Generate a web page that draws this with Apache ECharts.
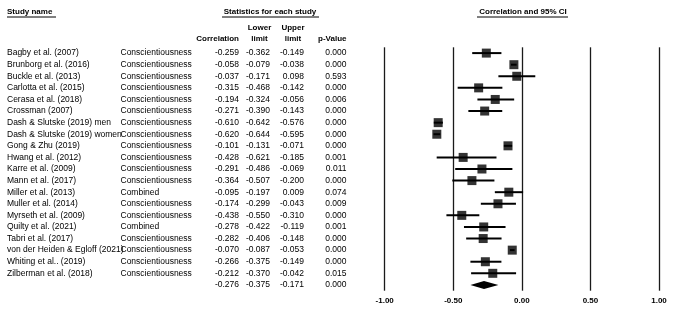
<!DOCTYPE html>
<html>
<head>
<meta charset="utf-8">
<script src="https://cdn.jsdelivr.net/npm/echarts@6/dist/echarts.min.js"></script>
<style>
  html, body { margin: 0; padding: 0; background: #fff; }
  #main { width: 685px; height: 310px; }
</style>
</head>
<body>
<div id="main"></div>
<script>
var studies = ['Bagby et al. (2007)', 'Brunborg et al. (2016)', 'Buckle et al. (2013)', 'Carlotta et al. (2015)',
    'Cerasa et al. (2018)', 'Crossman (2007)', 'Dash & Slutske (2019) men', 'Dash & Slutske (2019) women',
    'Gong & Zhu (2019)', 'Hwang et al. (2012)', 'Karre et al. (2009)', 'Mann et al. (2017)',
    'Miller et al. (2013)', 'Muller et al. (2014)', 'Myrseth et al. (2009)', 'Quilty et al. (2021)',
    'Tabri et al. (2017)', 'von der Heiden & Egloff (2021)', 'Whiting et al.. (2019)', 'Zilberman et al. (2018)'];
var outcomes = ['Conscientiousness', 'Conscientiousness', 'Conscientiousness', 'Conscientiousness',
    'Conscientiousness', 'Conscientiousness', 'Conscientiousness', 'Conscientiousness',
    'Conscientiousness', 'Conscientiousness', 'Conscientiousness', 'Conscientiousness',
    'Combined', 'Conscientiousness', 'Conscientiousness', 'Combined',
    'Conscientiousness', 'Conscientiousness', 'Conscientiousness', 'Conscientiousness'];
var corr = [-0.259, -0.058, -0.037, -0.315, -0.194, -0.271, -0.610, -0.620, -0.101, -0.428,
    -0.291, -0.364, -0.095, -0.174, -0.438, -0.278, -0.282, -0.070, -0.266, -0.212];
var lower = [-0.362, -0.079, -0.171, -0.468, -0.324, -0.390, -0.642, -0.644, -0.131, -0.621,
    -0.486, -0.507, -0.197, -0.299, -0.550, -0.422, -0.406, -0.087, -0.375, -0.370];
var upper = [-0.149, -0.038, 0.098, -0.142, -0.056, -0.143, -0.576, -0.595, -0.071, -0.185,
    -0.069, -0.200, 0.009, -0.043, -0.310, -0.119, -0.148, -0.053, -0.149, -0.042];
var pValues = [0.000, 0.000, 0.593, 0.000, 0.006, 0.000, 0.000, 0.000, 0.000, 0.001,
    0.011, 0.000, 0.074, 0.009, 0.000, 0.001, 0.000, 0.000, 0.000, 0.015];
// pooled effect
var summary = { corr: -0.276, lower: -0.375, upper: -0.171, p: 0.000 };

var FONT = 'Liberation Sans, Arial, sans-serif';
var n = studies.length;
var rows = [];
for (var i = 0; i <= n; i++) rows.push(i);

function f3(v) { return v.toFixed(3); }

var colNames = studies.concat(['']);
var colOutcome = outcomes.concat(['']);
var colCorr = corr.map(f3).concat([f3(summary.corr)]);
var colLower = lower.map(f3).concat([f3(summary.lower)]);
var colUpper = upper.map(f3).concat([f3(summary.upper)]);
var colP = pValues.map(f3).concat([f3(summary.p)]);

var gridLeft = 384.7;

function colAxis(data, offset, align) {
    return {
        type: 'category',
        position: 'left',
        offset: offset,
        inverse: true,
        data: data,
        axisLine: { show: false, onZero: false },
        axisTick: { show: false },
        splitLine: { show: false },
        axisLabel: { interval: 0, margin: 0, align: align, fontSize: 8.5, color: '#000', fontFamily: FONT }
    };
}

var ciData = [], pointData = [];
for (var j = 0; j < n; j++) {
    ciData.push([lower[j], upper[j], j]);
    pointData.push([corr[j], j]);
}

function headText(txt, x, y, align) {
    return {
        type: 'text', x: x, y: y,
        style: {
            text: txt, fill: '#000', align: align, verticalAlign: 'middle',
            font: 'bold 8px ' + FONT
        }
    };
}
function uline(x1, x2, y) {
    return { type: 'line', shape: { x1: x1, y1: y, x2: x2, y2: y }, style: { stroke: '#000', lineWidth: 1 } };
}

var myChart = echarts.init(document.getElementById('main'));

option = {
    animation: false,
    backgroundColor: '#fff',
    grid: { left: gridLeft, width: 274.3, top: 47.3, height: 243.4 },
    xAxis: {
        type: 'value',
        min: -1,
        max: 1,
        interval: 0.5,
        axisLine: { show: false },
        axisTick: { show: false },
        splitLine: { show: true, lineStyle: { color: '#1a1a1a', width: 1.3 } },
        axisLabel: {
            margin: 6, fontSize: 8, fontWeight: 'bold', color: '#000', fontFamily: FONT,
            formatter: function (v) { return v.toFixed(2); }
        }
    },
    yAxis: [
        {
            type: 'category', inverse: true, data: rows, show: false,
            axisLine: { onZero: false }
        },
        colAxis(colNames, gridLeft - 7, 'left'),
        colAxis(colOutcome, gridLeft - 120.5, 'left'),
        colAxis(colCorr, gridLeft - 239, 'right'),
        colAxis(colLower, gridLeft - 270, 'right'),
        colAxis(colUpper, gridLeft - 304, 'right'),
        colAxis(colP, gridLeft - 346.5, 'right')
    ],
    graphic: [
        headText('Study name', 7, 12, 'left'),
        uline(7, 56, 17),
        headText('Statistics for each study', 270, 12, 'center'),
        uline(222, 319, 17),
        headText('Correlation and 95% CI', 523, 12, 'center'),
        uline(477, 568, 17),
        headText('Correlation', 239, 39, 'right'),
        headText('Lower', 259.5, 28, 'center'),
        headText('limit', 259.5, 39, 'center'),
        headText('Upper', 293, 28, 'center'),
        headText('limit', 293, 39, 'center'),
        headText('p-Value', 346.5, 39, 'right')
    ],
    series: [
        {
            name: 'CI',
            type: 'custom',
            yAxisIndex: 0,
            encode: { x: [0, 1], y: 2 },
            data: ciData,
            renderItem: function (params, api) {
                var a = api.coord([api.value(0), api.value(2)]);
                var b = api.coord([api.value(1), api.value(2)]);
                return {
                    type: 'line',
                    shape: { x1: a[0], y1: a[1], x2: b[0], y2: b[1] },
                    style: { stroke: '#000', lineWidth: 2 }
                };
            }
        },
        {
            name: 'Correlation',
            type: 'scatter',
            yAxisIndex: 0,
            symbol: 'rect',
            symbolSize: 9,
            itemStyle: { color: '#000' },
            data: pointData,
            z: 3
        },
        {
            name: 'Summary',
            type: 'custom',
            yAxisIndex: 0,
            encode: { x: [0, 1, 2], y: 3 },
            data: [[summary.lower, summary.corr, summary.upper, n]],
            renderItem: function (params, api) {
                var l = api.coord([api.value(0), api.value(3)]);
                var c = api.coord([api.value(1), api.value(3)]);
                var u = api.coord([api.value(2), api.value(3)]);
                var h = 4;
                return {
                    type: 'polygon',
                    shape: { points: [[l[0], l[1]], [c[0], c[1] - h], [u[0], u[1]], [c[0], c[1] + h]] },
                    style: { fill: '#000' }
                };
            }
        }
    ]
};
myChart.setOption(option);
</script>
</body>
</html>
